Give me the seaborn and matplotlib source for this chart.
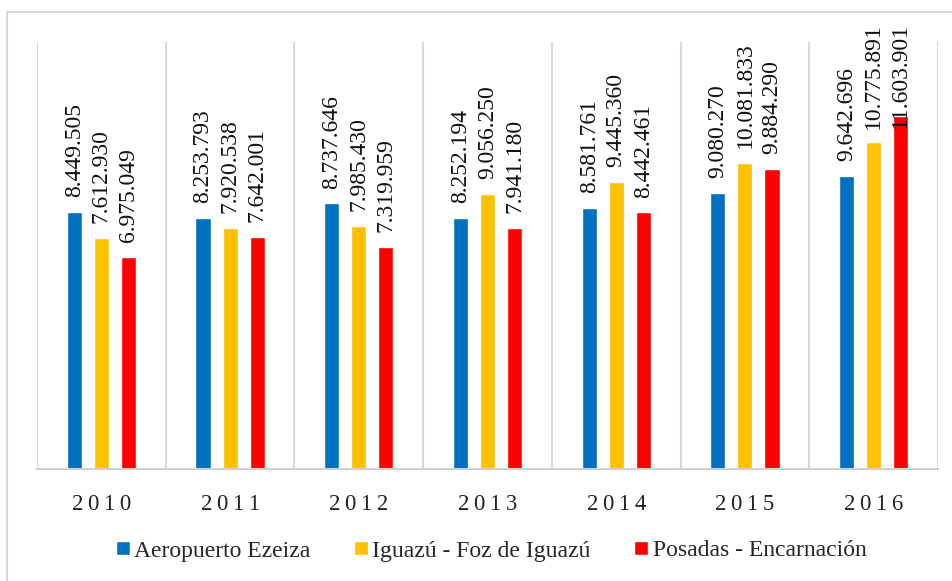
import numpy as np
import pandas as pd
import matplotlib
matplotlib.use("Agg")
import matplotlib.pyplot as plt
from matplotlib.patches import Rectangle
import seaborn as sns

years = ["2010", "2011", "2012", "2013", "2014", "2015", "2016"]
routes = ["Aeropuerto Ezeiza", "Iguazú - Foz de Iguazú", "Posadas - Encarnación"]
ezeiza = [8449505, 8253793, 8737646, 8252194, 8581761, 9080270, 9642696]
iguazu = [7612930, 7920538, 7985430, 9056250, 9445360, 10081833, 10775891]
posadas = [6975049, 7642001, 7319959, 7941180, 8442461, 9884290, 11603901]
colors = ["#0070C0", "#FFC000", "#FF0000"]

df = pd.DataFrame({
    "year": years * 3,
    "route": [r for r in routes for _ in years],
    "value": ezeiza + iguazu + posadas,
})

sns.set_theme(style="white")
plt.rcParams["font.family"] = ["Liberation Serif", "DejaVu Serif"]

W, H = 952, 581
fig = plt.figure(figsize=(W / 100, H / 100), dpi=100)
ax = fig.add_axes([37 / W, 1 - 469 / H, 901 / W, 427 / H])

sns.barplot(data=df, x="year", y="value", hue="route", hue_order=routes,
            palette=colors, width=0.63, gap=0.44, ax=ax, saturation=1)

ax.set_xlim(-0.5, len(years) - 0.5)
ax.set_ylim(0, 14.05e6)
ax.set_xlabel("")
ax.set_ylabel("")
ax.set_yticks([])
ax.set_xticks(range(len(years)))
ax.set_xticklabels(["\u2009".join(y) for y in years], fontsize=16.5, color="#222222")
ax.set_xticks(np.arange(-0.5, len(years)), minor=True)
ax.grid(which="minor", axis="x", color="#d9d9d9", lw=1.5)
ax.grid(which="major", visible=False)
ax.tick_params(which="both", length=0)
ax.tick_params(axis="x", which="major", pad=18)
for s in ["left", "right", "top"]:
    ax.spines[s].set_visible(False)
ax.spines["bottom"].set_color("#d0d0d0")
ax.spines["bottom"].set_linewidth(1.5)

# data labels, rotated, above each bar
texts = []
for cont in ax.containers:
    for bar in cont:
        h = bar.get_height()
        x = bar.get_x() + bar.get_width() / 2
        t = ax.text(x, h + 0.49e6, f"{int(h):,}".replace(",", "."),
                    rotation=90, ha="center", va="bottom", fontsize=17,
                    color="#111111", clip_on=False)
        texts.append(t)

# keep labels inside the chart area (pushed down like in the original)
fig.canvas.draw()
top_limit = H - 23
inv = ax.transData.inverted()
for t in texts:
    bb = t.get_window_extent()
    if bb.y1 > top_limit:
        dy = bb.y1 - top_limit
        x0, y0 = t.get_position()
        disp = ax.transData.transform((x0, y0))
        _, new_y = inv.transform((disp[0], disp[1] - dy))
        t.set_y(new_y)

handles, labels = ax.get_legend_handles_labels()
ax.legend(handles, labels, loc="center", bbox_to_anchor=(0.516, 1 - 551 / H),
          bbox_transform=fig.transFigure, ncol=3, frameon=False, fontsize=17,
          handlelength=0.57, handleheight=0.52, handletextpad=0.2,
          columnspacing=1.85)

fig.add_artist(Rectangle((7 / W, -0.05), 1.1, 1 - 12 / H + 0.05,
                         transform=fig.transFigure, fill=False,
                         edgecolor="#d9d9d9", lw=1.5))

fig.savefig("out.png", dpi=100)
